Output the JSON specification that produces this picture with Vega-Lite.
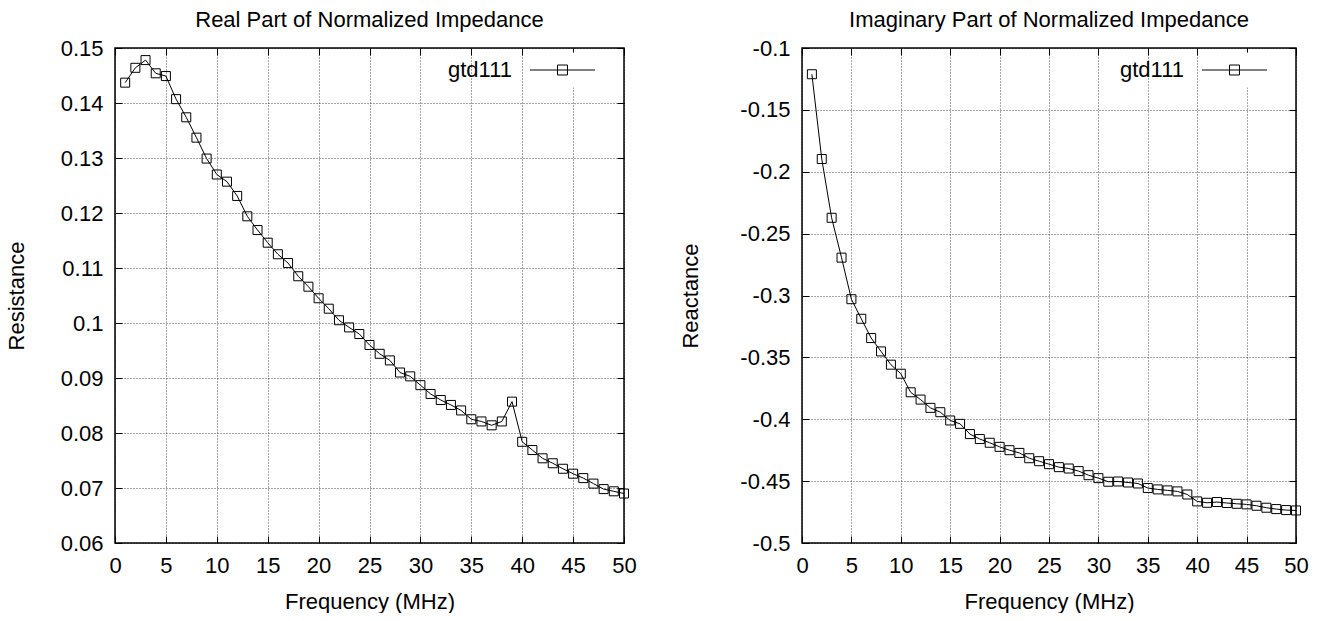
{
  "$schema": "https://vega.github.io/schema/vega-lite/v6.json",
  "background": "white",
  "padding": {"left": 4, "top": 8, "right": 5, "bottom": 0},
  "bounds": "flush",
  "spacing": 178,
  "datasets": {
    "real": [
      {"f": 1, "v": 0.1437, "series": "gtd111"}, {"f": 2, "v": 0.1464, "series": "gtd111"}, {"f": 3, "v": 0.1478, "series": "gtd111"}, {"f": 4, "v": 0.1454, "series": "gtd111"}, {"f": 5, "v": 0.1449, "series": "gtd111"},
      {"f": 6, "v": 0.1407, "series": "gtd111"}, {"f": 7, "v": 0.1374, "series": "gtd111"}, {"f": 8, "v": 0.1337, "series": "gtd111"}, {"f": 9, "v": 0.1299, "series": "gtd111"}, {"f": 10, "v": 0.1270, "series": "gtd111"},
      {"f": 11, "v": 0.1257, "series": "gtd111"}, {"f": 12, "v": 0.1231, "series": "gtd111"}, {"f": 13, "v": 0.1194, "series": "gtd111"}, {"f": 14, "v": 0.1169, "series": "gtd111"}, {"f": 15, "v": 0.1146, "series": "gtd111"},
      {"f": 16, "v": 0.1125, "series": "gtd111"}, {"f": 17, "v": 0.1109, "series": "gtd111"}, {"f": 18, "v": 0.1085, "series": "gtd111"}, {"f": 19, "v": 0.1066, "series": "gtd111"}, {"f": 20, "v": 0.1045, "series": "gtd111"},
      {"f": 21, "v": 0.1026, "series": "gtd111"}, {"f": 22, "v": 0.1005, "series": "gtd111"}, {"f": 23, "v": 0.0992, "series": "gtd111"}, {"f": 24, "v": 0.0980, "series": "gtd111"}, {"f": 25, "v": 0.0960, "series": "gtd111"},
      {"f": 26, "v": 0.0944, "series": "gtd111"}, {"f": 27, "v": 0.0932, "series": "gtd111"}, {"f": 28, "v": 0.0910, "series": "gtd111"}, {"f": 29, "v": 0.0903, "series": "gtd111"}, {"f": 30, "v": 0.0887, "series": "gtd111"},
      {"f": 31, "v": 0.0871, "series": "gtd111"}, {"f": 32, "v": 0.0860, "series": "gtd111"}, {"f": 33, "v": 0.0851, "series": "gtd111"}, {"f": 34, "v": 0.0841, "series": "gtd111"}, {"f": 35, "v": 0.0825, "series": "gtd111"},
      {"f": 36, "v": 0.0821, "series": "gtd111"}, {"f": 37, "v": 0.0814, "series": "gtd111"}, {"f": 38, "v": 0.0821, "series": "gtd111"}, {"f": 39, "v": 0.0857, "series": "gtd111"}, {"f": 40, "v": 0.0784, "series": "gtd111"},
      {"f": 41, "v": 0.0769, "series": "gtd111"}, {"f": 42, "v": 0.0754, "series": "gtd111"}, {"f": 43, "v": 0.0745, "series": "gtd111"}, {"f": 44, "v": 0.0735, "series": "gtd111"}, {"f": 45, "v": 0.0726, "series": "gtd111"},
      {"f": 46, "v": 0.0718, "series": "gtd111"}, {"f": 47, "v": 0.0708, "series": "gtd111"}, {"f": 48, "v": 0.0698, "series": "gtd111"}, {"f": 49, "v": 0.0694, "series": "gtd111"}, {"f": 50, "v": 0.0690, "series": "gtd111"}
    ],
    "imag": [
      {"f": 1, "v": -0.1212, "series": "gtd111"}, {"f": 2, "v": -0.1897, "series": "gtd111"}, {"f": 3, "v": -0.2372, "series": "gtd111"}, {"f": 4, "v": -0.2694, "series": "gtd111"}, {"f": 5, "v": -0.3030, "series": "gtd111"},
      {"f": 6, "v": -0.3188, "series": "gtd111"}, {"f": 7, "v": -0.3344, "series": "gtd111"}, {"f": 8, "v": -0.3452, "series": "gtd111"}, {"f": 9, "v": -0.3559, "series": "gtd111"}, {"f": 10, "v": -0.3632, "series": "gtd111"},
      {"f": 11, "v": -0.3782, "series": "gtd111"}, {"f": 12, "v": -0.3841, "series": "gtd111"}, {"f": 13, "v": -0.3908, "series": "gtd111"}, {"f": 14, "v": -0.3943, "series": "gtd111"}, {"f": 15, "v": -0.4010, "series": "gtd111"},
      {"f": 16, "v": -0.4037, "series": "gtd111"}, {"f": 17, "v": -0.4120, "series": "gtd111"}, {"f": 18, "v": -0.4160, "series": "gtd111"}, {"f": 19, "v": -0.4190, "series": "gtd111"}, {"f": 20, "v": -0.4223, "series": "gtd111"},
      {"f": 21, "v": -0.4250, "series": "gtd111"}, {"f": 22, "v": -0.4272, "series": "gtd111"}, {"f": 23, "v": -0.4315, "series": "gtd111"}, {"f": 24, "v": -0.4339, "series": "gtd111"}, {"f": 25, "v": -0.4363, "series": "gtd111"},
      {"f": 26, "v": -0.4387, "series": "gtd111"}, {"f": 27, "v": -0.4398, "series": "gtd111"}, {"f": 28, "v": -0.4419, "series": "gtd111"}, {"f": 29, "v": -0.4452, "series": "gtd111"}, {"f": 30, "v": -0.4476, "series": "gtd111"},
      {"f": 31, "v": -0.4505, "series": "gtd111"}, {"f": 32, "v": -0.4503, "series": "gtd111"}, {"f": 33, "v": -0.4511, "series": "gtd111"}, {"f": 34, "v": -0.4519, "series": "gtd111"}, {"f": 35, "v": -0.4556, "series": "gtd111"},
      {"f": 36, "v": -0.4567, "series": "gtd111"}, {"f": 37, "v": -0.4575, "series": "gtd111"}, {"f": 38, "v": -0.4583, "series": "gtd111"}, {"f": 39, "v": -0.4608, "series": "gtd111"}, {"f": 40, "v": -0.4664, "series": "gtd111"},
      {"f": 41, "v": -0.4675, "series": "gtd111"}, {"f": 42, "v": -0.4669, "series": "gtd111"}, {"f": 43, "v": -0.4677, "series": "gtd111"}, {"f": 44, "v": -0.4683, "series": "gtd111"}, {"f": 45, "v": -0.4688, "series": "gtd111"},
      {"f": 46, "v": -0.4699, "series": "gtd111"}, {"f": 47, "v": -0.4715, "series": "gtd111"}, {"f": 48, "v": -0.4726, "series": "gtd111"}, {"f": 49, "v": -0.4734, "series": "gtd111"}, {"f": 50, "v": -0.4737, "series": "gtd111"}
    ]
  },
  "hconcat": [
    {
      "width": 509,
      "height": 495,
      "data": {"name": "real"},
      "title": {"text": "Real Part of Normalized Impedance"},
      "resolve": {"axis": {"x": "independent", "y": "independent"}},
      "layer": [
        {
          "mark": {"type": "line", "strokeWidth": 1, "color": "black"},
          "encoding": {
            "x": {"field": "f", "type": "quantitative", "scale": {"domain": [0, 50], "nice": false, "zero": false},
                  "axis": {"orient": "bottom", "values": [0, 5, 10, 15, 20, 25, 30, 35, 40, 45, 50], "title": "Frequency (MHz)", "grid": true, "titlePadding": 15}},
            "y": {"field": "v", "type": "quantitative", "scale": {"domain": [0.06, 0.15], "nice": false, "zero": false},
                  "axis": {"orient": "left", "values": [0.06, 0.07, 0.08, 0.09, 0.1, 0.11, 0.12, 0.13, 0.14, 0.15], "title": "Resistance", "grid": true, "titlePadding": 32, "labelExpr": "replace(format(datum.value, '~g'), '\u2212', '-')"}},
            "color": {"field": "series", "type": "nominal", "scale": {"range": ["black"]},
                      "legend": {"orient": "none", "legendX": 430, "legendY": 4.5}}
          }
        },
        {
          "mark": {"type": "point", "shape": "square", "filled": false, "size": 81, "strokeWidth": 1, "opacity": 1},
          "encoding": {
            "x": {"field": "f", "type": "quantitative",
                  "axis": {"orient": "top", "values": [0, 5, 10, 15, 20, 25, 30, 35, 40, 45, 50], "title": null, "labels": false, "grid": false, "labelPadding": 0}},
            "y": {"field": "v", "type": "quantitative",
                  "axis": {"orient": "right", "values": [0.06, 0.07, 0.08, 0.09, 0.1, 0.11, 0.12, 0.13, 0.14, 0.15], "title": null, "labels": false, "grid": false, "labelPadding": 0}},
            "color": {"field": "series", "type": "nominal", "scale": {"range": ["black"]},
                      "legend": {"orient": "none", "legendX": 430, "legendY": 4.5}}
          }
        }
      ]
    },
    {
      "width": 494,
      "height": 495,
      "data": {"name": "imag"},
      "title": {"text": "Imaginary Part of Normalized Impedance"},
      "resolve": {"axis": {"x": "independent", "y": "independent"}},
      "layer": [
        {
          "mark": {"type": "line", "strokeWidth": 1, "color": "black"},
          "encoding": {
            "x": {"field": "f", "type": "quantitative", "scale": {"domain": [0, 50], "nice": false, "zero": false},
                  "axis": {"orient": "bottom", "values": [0, 5, 10, 15, 20, 25, 30, 35, 40, 45, 50], "title": "Frequency (MHz)", "grid": true, "titlePadding": 15}},
            "y": {"field": "v", "type": "quantitative", "scale": {"domain": [-0.5, -0.1], "nice": false, "zero": false},
                  "axis": {"orient": "left", "values": [-0.5, -0.45, -0.4, -0.35, -0.3, -0.25, -0.2, -0.15, -0.1], "title": "Reactance", "grid": true, "titlePadding": 37, "labelExpr": "replace(format(datum.value, '~g'), '\u2212', '-')"}},
            "color": {"field": "series", "type": "nominal", "scale": {"range": ["black"]},
                      "legend": {"orient": "none", "legendX": 415, "legendY": 4.5}}
          }
        },
        {
          "mark": {"type": "point", "shape": "square", "filled": false, "size": 81, "strokeWidth": 1, "opacity": 1},
          "encoding": {
            "x": {"field": "f", "type": "quantitative",
                  "axis": {"orient": "top", "values": [0, 5, 10, 15, 20, 25, 30, 35, 40, 45, 50], "title": null, "labels": false, "grid": false, "labelPadding": 0}},
            "y": {"field": "v", "type": "quantitative",
                  "axis": {"orient": "right", "values": [-0.5, -0.45, -0.4, -0.35, -0.3, -0.25, -0.2, -0.15, -0.1], "title": null, "labels": false, "grid": false, "labelPadding": 0}},
            "color": {"field": "series", "type": "nominal", "scale": {"range": ["black"]},
                      "legend": {"orient": "none", "legendX": 415, "legendY": 4.5}}
          }
        }
      ]
    }
  ],
  "resolve": {"scale": {"color": "independent"}, "legend": {"color": "independent"}},
  "config": {
    "font": "Liberation Sans",
    "view": {"stroke": "black", "strokeWidth": 1.5},
    "point": {"opacity": 1},
    "title": {"font": "Liberation Sans", "fontSize": 22, "fontWeight": "normal", "color": "black", "anchor": "middle", "frame": "group", "baseline": "alphabetic", "offset": 5},
    "axis": {
      "domain": false,
      "labelFont": "Liberation Sans", "labelFontSize": 22, "labelColor": "black",
      "titleFont": "Liberation Sans", "titleFontSize": 22, "titleFontWeight": "normal", "titleColor": "black",
      "tickColor": "black", "tickWidth": 1, "tickSize": -7,
      "labelPadding": 19,
      "gridColor": "black", "gridDash": [1, 2], "gridWidth": 1, "gridOpacity": 0.7,
      "labelFlush": false, "labelOverlap": false, "labelBound": false
    },
    "legend": {
      "title": null,
      "fillColor": "white",
      "padding": 6,
      "symbolType": "M-3,0H3M-0.46,-0.46H0.46V0.46H-0.46Z",
      "symbolSize": 469,
      "symbolStrokeColor": "black",
      "symbolFillColor": "transparent",
      "symbolStrokeWidth": 1,
      "symbolOpacity": 1,
      "labelAlign": "right",
      "labelOffset": -62,
      "labelFont": "Liberation Sans",
      "labelFontSize": 22,
      "labelColor": "black",
      "labelLimit": 0
    }
  }
}
